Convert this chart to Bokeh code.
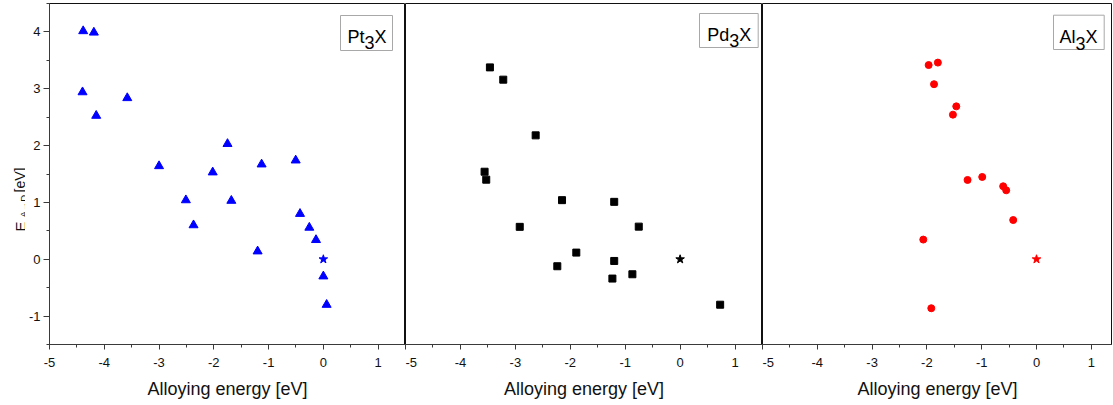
import math
from bokeh.plotting import figure
from bokeh.layouts import row
from bokeh.models import FixedTicker, Label, BoxAnnotation, Range1d, PrintfTickFormatter
from bokeh.core.properties import value
from bokeh.embed import file_html
from bokeh.resources import INLINE

# ---------------- data ----------------
pt_x = [-4.385, -4.19, -4.397, -4.147, -3.58, -3.00, -2.51, -2.37, -2.02, -1.75,
        -1.68, -1.20, -1.127, -0.505, -0.426, -0.256, -0.134, 0.0, 0.06]
pt_y = [4.015, 3.99, 2.94, 2.526, 2.837, 1.64, 1.04, 0.60, 1.53, 2.03,
        1.03, 0.14, 1.67, 1.74, 0.80, 0.557, 0.34, -0.30, -0.80]

pd_x = [-3.463, -3.22, -2.63, -3.56, -3.53, -2.15, -1.20, -2.92, -0.753, -1.89,
        -2.236, -1.20, -1.233, -0.869, 0.729]
pd_y = [3.376, 3.16, 2.18, 1.54, 1.40, 1.04, 1.01, 0.57, 0.574, 0.117,
        -0.123, -0.03, -0.34, -0.264, -0.80]

al_x = [-1.968, -1.80, -1.87, -1.464, -1.525, -1.258, -0.99, -0.608, -0.553, -0.425,
        -2.066, -1.92]
al_y = [3.417, 3.46, 3.08, 2.69, 2.544, 1.395, 1.448, 1.284, 1.213, 0.69,
        0.346, -0.862]

ref_x = [0.0]
ref_y = [0.0]

panel_names = [("Pt", "3", "X"), ("Pd", "3", "X"), ("Al", "3", "X")]
y_title = ["E", "A\u2192D", "[eV]"]
x_title = "Alloying energy [eV]"
x_ticks = [-5, -4, -3, -2, -1, 0, 1]
x_minor = [-4.5, -3.5, -2.5, -1.5, -0.5, 0.5, 1.5]
y_ticks = [-1, 0, 1, 2, 3, 4]
y_minor = [-1.5, -0.5, 0.5, 1.5, 2.5, 3.5, 4.5]

# ---------------- layout ----------------
FONT = "Liberation Sans"
FH = 341
TOP = 3
YR = (-1.5, 4.5)
AXC = "#3a3a3a"
PX_PER_X = 54.8
LW = 25          # width of the y-title strip
P1_LEFT = 24     # p1 left border (tick labels)


def make_fig(fw, xr, left_border):
    p = figure(frame_width=fw, frame_height=FH, x_range=Range1d(*xr), y_range=Range1d(*YR),
               output_backend="svg", toolbar_location=None,
               min_border_left=left_border, min_border_right=0, min_border_top=TOP,
               min_border_bottom=0)
    p.grid.visible = False
    p.outline_line_color = "#111111"
    p.outline_line_width = 1
    p.background_fill_color = "white"
    p.border_fill_color = "white"
    xa = p.xaxis[0]
    xa.ticker = FixedTicker(ticks=x_ticks, minor_ticks=x_minor)
    xa.formatter = PrintfTickFormatter(format="%d")
    xa.axis_label = x_title
    xa.axis_label_text_font = FONT
    xa.axis_label_text_font_size = "18px"
    xa.axis_label_text_font_style = "normal"
    xa.axis_label_text_color = "#111111"
    xa.axis_label_standoff = 9
    xa.major_label_text_font = FONT
    xa.major_label_text_font_size = "13px"
    xa.major_label_standoff = 8
    xa.major_tick_out = 5
    xa.major_tick_in = 0
    xa.minor_tick_out = 3
    xa.minor_tick_in = 0
    xa.axis_line_color = AXC
    xa.major_tick_line_color = AXC
    xa.minor_tick_line_color = AXC
    xa.major_label_text_color = "#111111"
    return p


def xdat(px, fw, xr):
    return xr[0] + px / fw * (xr[1] - xr[0])


def ydat(py):
    return YR[1] - py / FH * (YR[1] - YR[0])


def add_box(p, fw, xr, name, box, text_x, base_y, w1):
    left, right, top, bottom = box
    p.add_layout(BoxAnnotation(left=xdat(left, fw, xr), right=xdat(right, fw, xr),
                               top=ydat(top), bottom=ydat(bottom),
                               fill_color="white", fill_alpha=1.0,
                               line_color="#a8a8a8", line_width=1, line_alpha=1.0))
    ax = xdat(text_x, fw, xr)
    ay = ydat(base_y)
    offs = [(0, 0), (w1, -6), (w1 + 10, 0)]
    for s, (dx, dy) in zip(name, offs):
        p.add_layout(Label(x=ax, y=ay, x_offset=dx, y_offset=dy, text=s,
                           text_font=FONT, text_font_size="18px", text_color="black",
                           text_align="left", text_baseline="alphabetic"))


# y-axis title strip: pixel coordinates (x from left edge, y from frame bottom)
lab = figure(frame_width=LW, frame_height=FH, x_range=Range1d(0, LW), y_range=Range1d(0, FH),
             output_backend="svg", toolbar_location=None, x_axis_location=None,
             y_axis_location=None, min_border_left=0, min_border_right=0,
             min_border_top=TOP, min_border_bottom=0)
lab.grid.visible = False
lab.outline_line_color = None
lab.border_fill_color = "white"
lab.background_fill_color = "white"
for txt, tx, ty, fs in [(y_title[0], 19.5, 113, "15px"),
                        (y_title[1], 23, 127, "9.5px"),
                        (y_title[2], 19.5, 152, "14px")]:
    lab.text(x=[tx], y=[ty], text=[txt], angle=math.pi / 2, text_font=value(FONT),
             text_font_size=value(fs), text_align="left", text_baseline="alphabetic",
             text_color="#111111")

# panel 1 : Pt3X
xr1 = (-5, 1.5)
fw1 = 356
p1 = make_fig(fw1, xr1, P1_LEFT)
ya = p1.yaxis[0]
ya.ticker = FixedTicker(ticks=y_ticks, minor_ticks=y_minor)
ya.formatter = PrintfTickFormatter(format="%d")
ya.major_label_text_font = FONT
ya.major_label_text_font_size = "13px"
ya.major_label_text_color = "#111111"
ya.major_label_standoff = 3
ya.major_tick_out = 6
ya.major_tick_in = 0
ya.minor_tick_out = 3
ya.minor_tick_in = 0
ya.axis_line_color = AXC
ya.major_tick_line_color = AXC
ya.minor_tick_line_color = AXC
ya.axis_label = None

p1.scatter(pt_x, pt_y, marker="triangle", size=9, fill_color="#0000ff", line_color="#0000ff")
p1.scatter(ref_x, ref_y, marker="star", size=9, fill_color="#0000ff", line_color="#0000ff")
add_box(p1, fw1, xr1, panel_names[0], (291, 343, 12, 47), 298, 33, 17)

# panel 2 : Pd3X
xr2 = (-5, 1.5)
fw2 = 357
p2 = make_fig(fw2, xr2, 0)
p2.yaxis.visible = False
p2.scatter(pd_x, pd_y, marker="square", size=7, fill_color="black", line_color="black")
p2.scatter(ref_x, ref_y, marker="star", size=9, fill_color="black", line_color="black")
add_box(p2, fw2, xr2, panel_names[1], (294, 352.7, 10, 44), 301.7, 31.3, 22)

# panel 3 : Al3X
fw3 = 350
xr3 = (-5, -5 + fw3 / PX_PER_X)
p3 = make_fig(fw3, xr3, 0)
p3.yaxis.visible = False
p3.scatter(al_x, al_y, marker="circle", size=7, fill_color="#ff0000", line_color="#ff0000")
p3.scatter(ref_x, ref_y, marker="star", size=9, fill_color="#ff0000", line_color="#ff0000")
add_box(p3, fw3, xr3, panel_names[2], (291, 341.7, 11.7, 46), 297, 33.7, 16)

layout = row(lab, p1, p2, p3, spacing=0)
open("out.html", "w").write(file_html(layout, INLINE))
